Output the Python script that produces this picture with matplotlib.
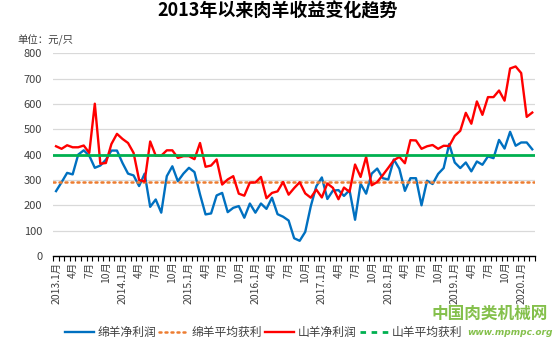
import matplotlib
matplotlib.use("Agg")
import matplotlib.pyplot as plt
from matplotlib.lines import Line2D
import numpy as np

plt.rcParams['font.family'] = ['Noto Sans CJK SC', 'DejaVu Sans']

# === Input data (元/只), monthly 2013.1 - 2020.3 ===
years = list(range(2013, 2021))
last_month_2020 = 3

sheep_profit = [
    256, 291, 328, 322, 400, 417, 396, 348, 357, 380, 416, 416,
    367, 325, 318, 276, 325, 194, 223, 171, 315, 354, 295, 325,
    348, 331, 243, 164, 168, 239, 249, 173, 190, 197, 151, 207,
    171, 207, 186, 230, 165, 155, 140, 70, 60, 95, 196, 275,
    310, 225, 258, 260, 237, 260, 143, 285, 246, 325, 345, 307,
    302, 381, 344, 257, 307, 307, 200, 297, 284, 324, 347, 442,
    369, 347, 369, 334, 373, 360, 393, 386, 458, 424, 490, 435,
    448, 448, 421,
]
goat_profit = [
    433, 423, 437, 429, 429, 436, 407, 601, 364, 367, 442, 482,
    462, 446, 407, 300, 294, 452, 396, 396, 417, 417, 387, 394,
    394, 382, 446, 352, 357, 381, 282, 302, 315, 246, 238, 290,
    290, 312, 228, 249, 255, 292, 242, 268, 291, 247, 230, 262,
    231, 286, 269, 224, 270, 253, 361, 312, 391, 279, 292, 319,
    348, 378, 391, 366, 457, 456, 423, 433, 438, 423, 435, 434,
    474, 494, 565, 522, 610, 557, 627, 627, 653, 613, 740, 748,
    722, 549, 566,
]
sheep_avg = 293
goat_avg = 400

labels = []
for y in years:
    for m in range(1, 13):
        if y == 2020 and m > last_month_2020:
            break
        labels.append(f"{y}.1月" if m == 1 else f"{m}月")

x = np.arange(len(labels))

# === Plot setup ===
fig = plt.figure(figsize=(5.55, 3.48), dpi=100)
ax = fig.add_axes([0.096, 0.2644, 0.868, 0.5825])

ax.plot(x, sheep_profit, color='#0070c0', linewidth=1.7, label='绵羊净利润')
ax.axhline(sheep_avg, color='#ed7d31', linewidth=1.8, linestyle=(0, (0.8, 1.6)),
           dash_capstyle='round', label='绵羊平均获利')
ax.plot(x, goat_profit, color='#ff0000', linewidth=1.7, label='山羊净利润')
ax.axhline(goat_avg, color='#00b050', linewidth=2.0, label='山羊平均获利')

ax.set_xlim(-0.5, len(labels) - 0.5)
ax.set_ylim(0, 800)
ax.set_yticks(range(0, 801, 100))
ax.tick_params(axis='y', length=0, labelsize=8, labelcolor='#404040', pad=8)

ax.set_xticks(x[::3])
ax.set_xticklabels(labels[::3], rotation=90, fontsize=7.5, color='#404040')
ax.set_xticks(np.arange(-0.5, len(labels), 1), minor=True)
ax.tick_params(axis='x', which='major', length=0, pad=4)
ax.tick_params(axis='x', which='minor', length=3.5, width=0.8, color='black')

ax.grid(True, axis='y', color='#d9d9d9', linewidth=0.9)
ax.set_axisbelow(True)
for s in ['left', 'right', 'top']:
    ax.spines[s].set_visible(False)
ax.spines['bottom'].set_color('black')
ax.spines['bottom'].set_linewidth(1.0)

# === Titles ===
fig.text(0.5, 0.968, '2013年以来肉羊收益变化趋势', ha='center', va='center',
         fontsize=13, fontweight='bold', color='black')
fig.text(0.031, 0.885, '单位：元/只', ha='left', va='center', fontsize=7.5, color='#404040')

# === Legend ===
handles, lbls = ax.get_legend_handles_labels()
handles[3] = Line2D([], [], color='#00b050', linewidth=2.0, linestyle=(0, (2.0, 2.0)))
fig.legend(handles, lbls, loc='center', bbox_to_anchor=(0.475, 0.045), ncol=4,
           frameon=False, fontsize=8.5, handlelength=2.4, handletextpad=0.3,
           columnspacing=0.3, labelcolor='#404040')

# === Watermark ===
fig.text(0.988, 0.097, '中国肉类机械网', ha='right', va='center', fontsize=12,
         fontweight='bold', color='#6fb52c', alpha=0.85)
fig.text(0.995, 0.045, 'www.mpmpc.org', ha='right', va='center', fontsize=6.5,
         fontweight='bold', style='italic', color='#6fb52c', alpha=0.85,
         family='DejaVu Sans')

fig.savefig('out.png', dpi=100)
